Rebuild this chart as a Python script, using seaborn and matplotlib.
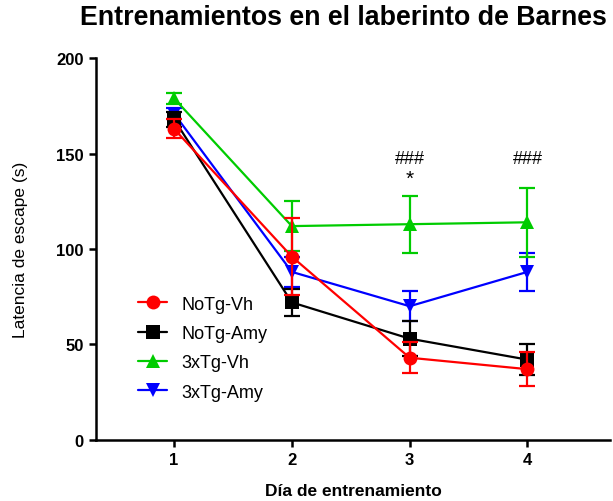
import pandas as pd
import matplotlib.pyplot as plt
import seaborn as sns

# datos
dias = [1, 2, 3, 4]
grupos = ['NoTg-Vh', 'NoTg-Amy', '3xTg-Vh', '3xTg-Amy']
notg_vh = [163, 96, 43, 37]
notg_vh_err = [5, 20, 8, 9]
notg_amy = [168, 72, 53, 42]
notg_amy_err = [4, 7, 9, 8]
tg_vh = [179, 112, 113, 114]
tg_vh_err = [3, 13, 15, 18]
tg_amy = [171, 88, 70, 88]
tg_amy_err = [3, 8, 8, 10]

colores = {'NoTg-Vh': '#FF0000', 'NoTg-Amy': '#000000',
           '3xTg-Vh': '#00CC00', '3xTg-Amy': '#0000FF'}
marcadores = {'NoTg-Vh': 'o', 'NoTg-Amy': 's', '3xTg-Vh': '^', '3xTg-Amy': 'v'}
orden_z = {'NoTg-Vh': 6, 'NoTg-Amy': 5, '3xTg-Vh': 4, '3xTg-Amy': 3}

df = pd.DataFrame({
    'dia': dias * 4,
    'grupo': [g for g in grupos for _ in dias],
    'latencia': notg_vh + notg_amy + tg_vh + tg_amy,
    'err': notg_vh_err + notg_amy_err + tg_vh_err + tg_amy_err,
})

sns.set_style('white')
plt.rcParams['font.family'] = ['Liberation Sans', 'DejaVu Sans']
plt.rcParams['text.color'] = 'black'
plt.rcParams['axes.labelcolor'] = 'black'
plt.rcParams['xtick.color'] = 'black'
plt.rcParams['ytick.color'] = 'black'

fig = plt.figure(figsize=(6.13, 5.02), dpi=100)
ax = fig.add_axes([0.157, 0.122, 0.838, 0.76])

for g in grupos:
    d = df[df['grupo'] == g]
    ax.errorbar(d['dia'], d['latencia'], yerr=d['err'], fmt='none',
                ecolor=colores[g], elinewidth=1.6, capsize=6, capthick=1.6,
                zorder=orden_z[g])
    sns.lineplot(x='dia', y='latencia', data=d, ax=ax, color=colores[g],
                 marker=marcadores[g], markersize=10, markeredgewidth=0,
                 linewidth=1.6, label=g, zorder=orden_z[g])

# anotaciones de significancia
ax.text(3, 143, '###', ha='center', va='bottom', fontsize=13)
ax.text(3, 132, '*', ha='center', va='bottom', fontsize=15)
ax.text(4, 143, '###', ha='center', va='bottom', fontsize=13)

ax.set_xlim(0.34, 4.7)
ax.set_ylim(0, 200)
ax.set_xticks(dias)
ax.set_yticks([0, 50, 100, 150, 200])
ax.set_xlabel('Día de entrenamiento', fontsize=12.5, fontweight='bold', labelpad=11)
ax.set_ylabel('Latencia de escape (s)', fontsize=12.5, labelpad=20)
fig.text(0.561, 0.965, 'Entrenamientos en el laberinto de Barnes', ha='center',
         va='center', fontsize=19.3, fontweight='bold')

ax.spines['top'].set_visible(False)
ax.spines['right'].set_visible(False)
for s in ['left', 'bottom']:
    ax.spines[s].set_linewidth(1.8)
    ax.spines[s].set_color('black')
ax.tick_params(axis='both', direction='out', length=5, width=1.8,
               labelsize=12, bottom=True, left=True, pad=4)
for t in ax.get_xticklabels() + ax.get_yticklabels():
    t.set_fontweight('bold')

ax.legend(loc='upper left', bbox_to_anchor=(0.05, 0.42), frameon=False,
          fontsize=13, handlelength=1.6, labelspacing=0.68)

fig.savefig('out.png', dpi=100)
